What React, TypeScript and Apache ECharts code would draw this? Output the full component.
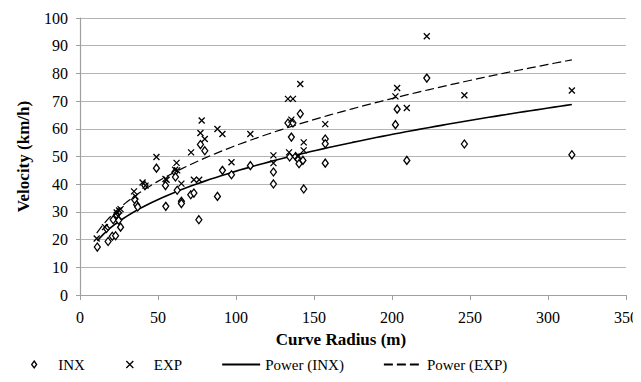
import React, { useEffect, useRef } from "react";
import * as echarts from "echarts";

const inxRadius = [11.1, 18, 20.7, 22.8, 26, 17, 21.3, 24.8, 23.5, 36.3, 37, 35, 41.6, 49, 54.8, 55, 60.8, 61.2, 62.3, 65, 65, 71, 73, 76.2, 77.2, 80, 88.1, 91.3, 97.1, 109.2, 124, 124, 133.3, 136.5, 135.5, 141.2, 134.4, 138.2, 139.7, 140.4, 142.9, 143.4, 157.2, 157.2, 157.2, 203.3, 202.2, 209.5, 222.3, 246.4, 315.3];
const inxVelocity = [17.3, 19.3, 21.2, 21.4, 24.5, 24, 27.2, 27, 29, 32.6, 31.8, 34.5, 39.5, 45.8, 39.5, 32, 44.3, 42.6, 37.8, 33.8, 33, 36.2, 36.8, 27.2, 54.3, 52.1, 35.6, 45, 43.4, 46.7, 44.4, 40.1, 62.1, 62.1, 57, 65.4, 49.8, 50, 49.1, 47.4, 48.6, 38.3, 56.3, 54.6, 47.6, 67.1, 61.5, 48.6, 78.3, 54.5, 50.6];

const expRadius = [10.7, 16, 23.5, 25.1, 26, 24.5, 34.6, 35.6, 40.1, 42, 49, 54.8, 55.5, 61.9, 61, 62.3, 65, 73, 76.4, 78, 77.2, 80, 71.2, 88.1, 91.3, 97.1, 109.2, 124, 124, 133.3, 136.5, 135.5, 141.2, 134, 143.4, 143.4, 139.7, 157.2, 203.3, 202.2, 209.5, 222.3, 246.4, 315.3];
const expVelocity = [20.4, 24.5, 29.8, 30.5, 31, 28.4, 37.4, 35.6, 40.6, 39.5, 49.8, 41.9, 41.6, 47.7, 45.2, 45, 40.2, 41.6, 41.6, 63, 58.5, 56.3, 51.5, 59.9, 58.1, 47.9, 58.1, 50.4, 47.6, 70.8, 70.8, 63.3, 76.2, 51.5, 55.1, 52.2, 50, 61.7, 74.7, 71.7, 67.5, 93.4, 72.1, 73.8];

const seriesNames = ["INX", "EXP", "Power (INX)", "Power (EXP)"];

// Least-squares power fit (y = a * x^b) in log-log space, as a spreadsheet trendline does.
function powerTrend(xs: number[], ys: number[]) {
  const n = xs.length;
  let sx = 0, sy = 0, sxx = 0, sxy = 0;
  for (let i = 0; i < n; i++) {
    const lx = Math.log(xs[i]);
    const ly = Math.log(ys[i]);
    sx += lx; sy += ly; sxx += lx * lx; sxy += lx * ly;
  }
  const b = (n * sxy - sx * sy) / (n * sxx - sx * sx);
  const a = Math.exp((sy - b * sx) / n);
  const min = Math.min(...xs);
  const max = Math.max(...xs);
  const pts: number[][] = [];
  const steps = 80;
  for (let i = 0; i <= steps; i++) {
    const x = min + ((max - min) * i) / steps;
    pts.push([x, a * Math.pow(x, b)]);
  }
  return pts;
}

const FONT = "Liberation Serif";
const DIAMOND = "path://M5,0L10,7L5,14L0,7Z";
const CROSS = "path://M0,0L10,10M10,0L0,10";

export default function App() {
  const ref = useRef<HTMLDivElement>(null);
  useEffect(() => {
    if (!ref.current) return;
    const chart = echarts.init(ref.current, undefined, { renderer: "svg" });
    const inxData = inxRadius.map((x, i) => [x, inxVelocity[i]]);
    const expData = expRadius.map((x, i) => [x, expVelocity[i]]);
    const tickLabel = {
      color: "#000",
      fontFamily: "serif",
      fontSize: 16,
    };
    chart.setOption({
      animation: false,
      backgroundColor: "#fff",
      textStyle: { fontFamily: FONT },
      grid: { left: 80, right: 14, top: 18, bottom: 87 },
      legend: {
        bottom: 5,
        left: 26,
        itemWidth: 38,
        itemHeight: 7,
        itemGap: 39,
        textStyle: { fontFamily: FONT, fontSize: 15, color: "#000" },
        data: [
          {
            name: seriesNames[0],
            icon: DIAMOND,
            itemStyle: { color: "#fff", borderColor: "#000", borderWidth: 1.3 },
            textStyle: { padding: [0, 22, 0, 0] },
          },
          { name: seriesNames[1], icon: CROSS, itemStyle: { color: "none", borderColor: "#000", borderWidth: 1.3 } },
          { name: seriesNames[2], itemStyle: { opacity: 0 } },
          { name: seriesNames[3], itemStyle: { opacity: 0 } },
        ],
      },
      xAxis: {
        type: "value",
        min: 0,
        max: 350,
        interval: 50,
        name: "Curve Radius (m)",
        nameLocation: "middle",
        nameGap: 36,
        nameTextStyle: { fontFamily: FONT, fontSize: 17, fontWeight: "bold", color: "#000", padding: [0, 24, 0, 0] },
        axisLine: { show: true, lineStyle: { color: "#a0a0a0", width: 1.2 } },
        axisTick: { show: true, length: 5, lineStyle: { color: "#a0a0a0" } },
        axisLabel: { ...tickLabel, margin: 14 },
        splitLine: { show: false },
      },
      yAxis: {
        type: "value",
        min: 0,
        max: 100,
        interval: 10,
        name: "Velocity (km/h)",
        nameLocation: "middle",
        nameGap: 48,
        nameTextStyle: { fontFamily: FONT, fontSize: 17, fontWeight: "bold", color: "#000" },
        axisLine: { show: true, lineStyle: { color: "#a0a0a0", width: 1.2 } },
        axisTick: { show: true, length: 4, lineStyle: { color: "#a0a0a0" } },
        axisLabel: { ...tickLabel, margin: 12 },
        splitLine: { show: true, lineStyle: { color: "#b4b4b4", width: 1.2 } },
      },
      series: [
        {
          name: seriesNames[0],
          type: "scatter",
          data: inxData,
          symbol: DIAMOND,
          symbolSize: [6, 8],
          itemStyle: { color: "#fff", borderColor: "#000", borderWidth: 1.3, opacity: 1 },
          z: 3,
        },
        {
          name: seriesNames[1],
          type: "scatter",
          data: expData,
          symbol: CROSS,
          symbolSize: 6,
          itemStyle: { color: "none", borderColor: "#000", borderWidth: 1.3, opacity: 1 },
          z: 4,
        },
        {
          name: seriesNames[2],
          type: "line",
          data: powerTrend(inxRadius, inxVelocity),
          showSymbol: false,
          symbol: "none",
          lineStyle: { color: "#000", width: 1.6, type: "solid" },
          itemStyle: { color: "#000" },
          z: 2,
        },
        {
          name: seriesNames[3],
          type: "line",
          data: powerTrend(expRadius, expVelocity),
          showSymbol: false,
          symbol: "none",
          lineStyle: { color: "#000", width: 1.2, type: [9, 4] },
          itemStyle: { color: "#000" },
          z: 2,
        },
      ],
    });
    return () => chart.dispose();
  }, []);
  return <div ref={ref} style={{ width: 641, height: 382, margin: -8 }} />;
}
